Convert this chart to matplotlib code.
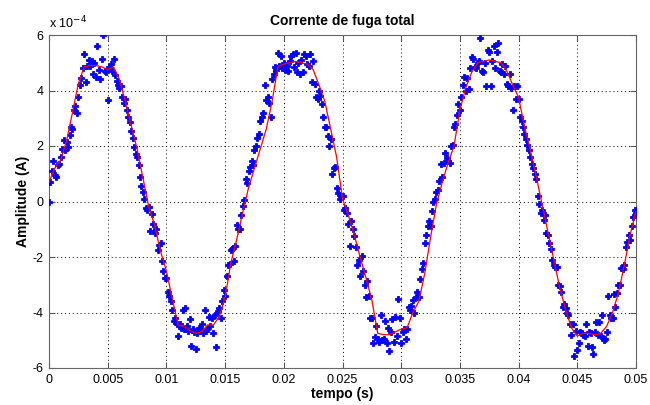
import numpy as np
import matplotlib
matplotlib.use("Agg")
import matplotlib.pyplot as plt
from matplotlib.ticker import FuncFormatter

plt.rcParams["font.family"] = ["Liberation Sans", "DejaVu Sans"]

# sampled current (units of 1e-4 A), 8 kHz from t = 0 to 0.05 s
dt = 0.000125
amostras = [
    0.0, 0.7, 1.1, 1.45, 0.95, 0.9, 1.3, 1.35, 1.6, 1.9, 2.2, 1.85, 2.15, 1.95, 2.4, 2.7, 2.6, 3.3, 3.45, 3.2,
    3.75, 4.2, 4.45, 4.8, 5.3, 4.3, 4.9, 5.1, 4.9, 5.05, 4.6, 5.0, 4.5, 5.6, 4.75, 4.4, 5.15, 6.0, 4.7, 4.65,
    3.65, 4.85, 4.95, 4.7, 5.15, 4.55, 4.35, 4.2, 4.1, 4.15, 3.75, 3.55, 3.7, 3.3, 3.05, 2.85, 2.55, 2.3, 1.95, 1.7,
    1.6, 1.3, 0.9, 0.55, 0.35, 0.1, -0.25, -0.3, -0.2, -1.05, -0.45, -0.8, -1.15, -1.0, -1.75, -1.55, -1.5, -2.15, -2.5, -2.75,
    -2.75, -3.25, -3.4, -3.6, -3.9, -4.3, -4.2, -4.4, -4.85, -4.4, -4.55, -3.9, -4.6, -3.85, -4.5, -4.65, -4.25, -5.2, -4.6, -4.7,
    -5.3, -4.75, -4.55, -4.6, -4.4, -4.75, -3.9, -4.65, -4.6, -4.15, -4.5, -4.2, -4.75, -4.1, -5.25, -3.95, -3.85, -4.2, -3.6, -3.2,
    -3.4, -2.7, -2.3, -2.25, -1.75, -1.7, -2.15, -1.6, -0.85, -1.0, -1.0, -0.5, -0.15, 0.05, 0.8, 0.65, 1.1, 1.25, 1.45, 1.3,
    1.85, 2.0, 2.3, 2.45, 2.9, 3.05, 3.2, 4.2, 3.65, 3.75, 3.55, 3.05, 4.4, 4.6, 4.85, 4.75, 5.35, 4.9, 5.25, 4.8,
    5.0, 4.75, 4.9, 4.7, 5.05, 5.25, 5.3, 4.85, 5.35, 4.65, 5.0, 4.6, 5.1, 4.65, 5.3, 5.25, 4.95, 4.9, 5.3, 4.3,
    5.05, 4.25, 3.75, 3.7, 4.0, 3.8, 3.5, 3.05, 2.7, 2.7, 2.35, 2.0, 2.25, 1.0, 1.2, 1.25, 0.5, 0.3, 0.1, 0.2,
    0.2, -0.3, -0.25, -0.4, -0.8, -1.6, -0.7, -1.0, -1.25, -1.65, -2.3, -2.1, -2.7, -1.95, -2.5, -3.0, -3.45, -2.85, -3.4, -4.2,
    -4.2, -5.1, -4.9, -4.5, -4.95, -5.05, -4.1, -5.0, -4.95, -4.3, -5.1, -4.55, -5.4, -4.7, -4.25, -5.05, -4.15, -4.85, -3.5, -4.2,
    -5.1, -4.7, -4.6, -4.95, -4.6, -3.8, -3.9, -3.75, -3.55, -4.0, -3.45, -3.25, -3.45, -2.8, -2.45, -2.2, -1.5, -1.2, -0.9, -0.7,
    -0.9, -0.35, 0.0, 0.1, 0.35, 0.4, 0.75, 1.35, 0.9, 1.4, 1.75, 1.55, 1.45, 1.4, 2.0, 2.05, 2.7, 2.8, 3.1, 3.5,
    3.3, 3.75, 4.2, 4.5, 4.0, 4.45, 4.05, 4.8, 5.2, 5.15, 4.85, 4.8, 5.0, 5.05, 5.9, 4.7, 4.65, 5.0, 4.15, 5.45,
    5.4, 4.15, 5.05, 5.6, 4.8, 5.4, 5.7, 4.7, 4.65, 4.95, 4.6, 4.9, 4.25, 4.15, 4.6, 4.1, 3.3, 4.15, 3.7, 4.15,
    3.7, 3.05, 2.9, 2.7, 2.45, 2.25, 2.05, 1.85, 1.6, 1.35, 1.2, 1.0, 0.8, 0.2, -0.1, -0.4, -0.3, -0.65, -0.5, -1.15,
    -1.2, -1.5, -1.7, -2.1, -2.3, -2.35, -2.35, -3.0, -3.05, -3.25, -3.8, -3.7, -3.85, -4.0, -4.1, -4.4, -4.8, -4.4, -5.55, -4.65,
    -5.35, -5.1, -4.7, -4.75, -4.8, -4.85, -4.4, -5.2, -4.7, -4.75, -5.25, -5.5, -4.7, -4.35, -4.8, -4.35, -4.85, -4.1, -5.0, -4.95,
    -4.7, -3.4, -4.1, -4.2, -4.2, -3.35, -3.8, -3.3, -3.0, -3.0, -2.4, -2.45, -2.3, -1.65, -1.45, -1.2, -1.4, -0.9, -0.55, -0.3,
    -0.4,
]

# smoothed curve (units of 1e-4 A), every 0.0005 s
dt_ajuste = 0.0005
ajuste = [
    0.7, 1.2, 1.5, 2.2, 3.2, 4.25, 4.85, 4.9, 4.9, 4.85, 4.75, 4.85, 4.4, 3.6, 2.75, 1.9, 0.85, -0.2, -0.85, -1.8,
    -2.5, -3.5, -4.45, -4.5, -4.65, -4.75, -4.7, -4.45, -4.45, -4.15, -3.45, -2.2, -1.35, -0.4, 0.5, 1.2, 1.9, 2.6, 3.6, 4.85,
    4.95, 5.0, 5.05, 5.0, 4.95, 4.75, 4.2, 3.6, 2.6, 1.6, 0.1, -0.5, -1.2, -2.0, -2.75, -3.55, -4.75, -4.8, -4.8, -4.7,
    -4.6, -4.55, -4.0, -3.6, -2.6, -1.3, -0.1, 0.7, 1.4, 2.0, 3.3, 4.1, 4.65, 5.0, 5.05, 5.1, 5.05, 5.0, 4.7, 4.2,
    3.75, 2.7, 1.85, 0.9, -0.1, -1.1, -2.1, -3.1, -3.9, -4.55, -4.85, -4.75, -4.75, -4.8, -4.75, -4.5, -4.0, -3.3, -2.3, -1.2,
    -0.35,
]

escala = 1e-4
t = np.arange(len(amostras)) * dt
i = np.array(amostras) * escala
t_aj = np.arange(len(ajuste)) * dt_ajuste
i_aj = np.array(ajuste) * escala

fig = plt.figure(figsize=(6.5, 4.05), dpi=100)
ax = fig.add_axes([49 / 650, 37 / 405, 587 / 650, 333 / 405])

ax.plot(t, i, linestyle="none", marker="P", markersize=4.3, color="blue",
        markeredgecolor="blue", markeredgewidth=0.6, zorder=3)
ax.plot(t_aj, i_aj, color="red", linewidth=0.9, zorder=4)

ax.set_xlim(0, 0.05)
ax.set_ylim(-6e-4, 6e-4)
ax.set_xticks(np.arange(0, 0.0501, 0.005))
ax.set_xticklabels(["0", "0.005", "0.01", "0.015", "0.02", "0.025", "0.03",
                    "0.035", "0.04", "0.045", "0.05"])
ax.set_yticks(np.arange(-6, 7, 2) * escala)
ax.yaxis.set_major_formatter(FuncFormatter(lambda v, p: "%d" % round(v / escala)))

ax.grid(True, linestyle=(0, (1, 3)), color="black", linewidth=0.7)
ax.tick_params(direction="in", length=4, top=True, right=True, labelsize=9,
               color="#555555", pad=4)
for s in ax.spines.values():
    s.set_color("#666666")

ax.set_title("Corrente de fuga total", fontsize=10, fontweight="bold", pad=7)
ax.set_xlabel("tempo (s)", fontsize=10, fontweight="bold", labelpad=1)
ax.set_ylabel("Amplitude (A)", fontsize=10, fontweight="bold", labelpad=2)
ax.text(0.0, 1.01, "x 10$^{-4}$", transform=ax.transAxes, fontsize=9,
        ha="left", va="bottom")

fig.savefig("out.png", dpi=100, facecolor="white")
